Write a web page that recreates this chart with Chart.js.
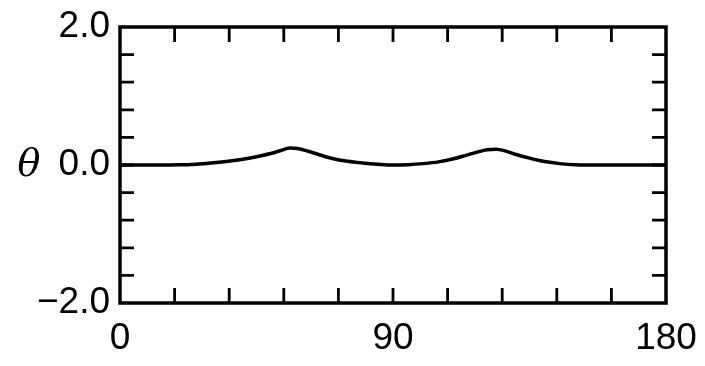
<!DOCTYPE html>
<html>
<head>
<meta charset="utf-8">
<script src="https://cdn.jsdelivr.net/npm/chart.js@4"></script>
<style>
html,body{margin:0;padding:0;background:#fff;}
#wrap{width:705px;height:366px;position:relative;}
</style>
</head>
<body>
<div id="wrap"><canvas id="c" width="705" height="366"></canvas></div>
<script>
// Data
const xValues = [0,10,20,25,30,35,40,45,50,53,56,59,62,66,70,75,80,85,90,95,100,105,110,114,118,121,124,127,130,135,140,145,150,160,170,180];
const thetaValues = [0,0,0.003,0.012,0.028,0.05,0.08,0.12,0.17,0.21,0.245,0.235,0.2,0.145,0.095,0.055,0.03,0.012,0.0,0.005,0.02,0.045,0.09,0.14,0.19,0.22,0.23,0.205,0.16,0.1,0.05,0.02,0.005,0,0,0];
const xTickLabels = {0:'0', 90:'90', 180:'180'};
const yTickLabels = {'2':'2.0', '0':'0.0', '-2':'\u22122.0'};
const yAxisTitle = '\u03B8';

const FONT = '"Liberation Sans", Arial, sans-serif';

const frameTicks = {
  id: 'frameTicks',
  afterDraw(chart) {
    const {ctx, chartArea: a, scales} = chart;
    ctx.save();
    ctx.strokeStyle = '#000';
    ctx.lineWidth = 2.8;
    ctx.lineCap = 'butt';
    scales.x.ticks.forEach(t => {
      if (t.value <= 0 || t.value >= 180) return;
      const px = scales.x.getPixelForValue(t.value);
      ctx.beginPath();
      ctx.moveTo(px, a.bottom); ctx.lineTo(px, a.bottom - 15);
      ctx.moveTo(px, a.top); ctx.lineTo(px, a.top + 15);
      ctx.stroke();
    });
    scales.y.ticks.forEach(t => {
      if (Math.abs(t.value) >= 1.999) return;
      const py = scales.y.getPixelForValue(t.value);
      ctx.beginPath();
      ctx.moveTo(a.left, py); ctx.lineTo(a.left + 14, py);
      ctx.moveTo(a.right, py); ctx.lineTo(a.right - 14, py);
      ctx.stroke();
    });
    ctx.lineWidth = 3.5;
    ctx.strokeRect(a.left, a.top, a.right - a.left, a.bottom - a.top);
    ctx.fillStyle = '#000';
    ctx.font = 'italic 38px "DejaVu Serif", "Liberation Serif", serif';
    ctx.textAlign = 'center';
    ctx.textBaseline = 'middle';
    ctx.fillText(yAxisTitle, 29, scales.y.getPixelForValue(0) + 1);
    ctx.restore();
  }
};

new Chart(document.getElementById('c'), {
  type: 'line',
  data: {
    datasets: [{
      data: xValues.map((x, i) => ({x: x, y: thetaValues[i]})),
      borderColor: '#000',
      borderWidth: 3.5,
      pointRadius: 0,
      cubicInterpolationMode: 'monotone',
      fill: false
    }]
  },
  options: {
    responsive: false,
    animation: false,
    layout: {padding: {left: 0, right: 39, top: 27, bottom: 8}},
    plugins: {legend: {display: false}, tooltip: {enabled: false}},
    scales: {
      x: {
        type: 'linear', min: 0, max: 180,
        grid: {display: false, drawTicks: false},
        border: {display: false},
        ticks: {
          stepSize: 18, autoSkip: false, maxRotation: 0, padding: 14,
          color: '#000', font: {family: FONT, size: 37},
          callback: v => xTickLabels[Math.round(v)] !== undefined && Math.abs(v - Math.round(v)) < 1e-6 ? xTickLabels[Math.round(v)] : ''
        },
        afterFit: s => { s.height = 55; s.paddingLeft = 0; s.paddingRight = 0; }
      },
      y: {
        type: 'linear', min: -2, max: 2,
        grid: {display: false, drawTicks: false},
        border: {display: false},
        ticks: {
          stepSize: 0.4, autoSkip: false, padding: 10,
          color: '#000', font: {family: FONT, size: 37},
          callback: v => {
            const r = Math.round(v * 10) / 10;
            return yTickLabels[String(r)] !== undefined && Math.abs(v - r) < 1e-6 && Number.isInteger(r) ? yTickLabels[String(r)] : '';
          }
        },
        afterFit: s => { s.width = 120; s.paddingTop = 0; s.paddingBottom = 0; }
      }
    }
  },
  plugins: [frameTicks]
});
</script>
</body>
</html>
